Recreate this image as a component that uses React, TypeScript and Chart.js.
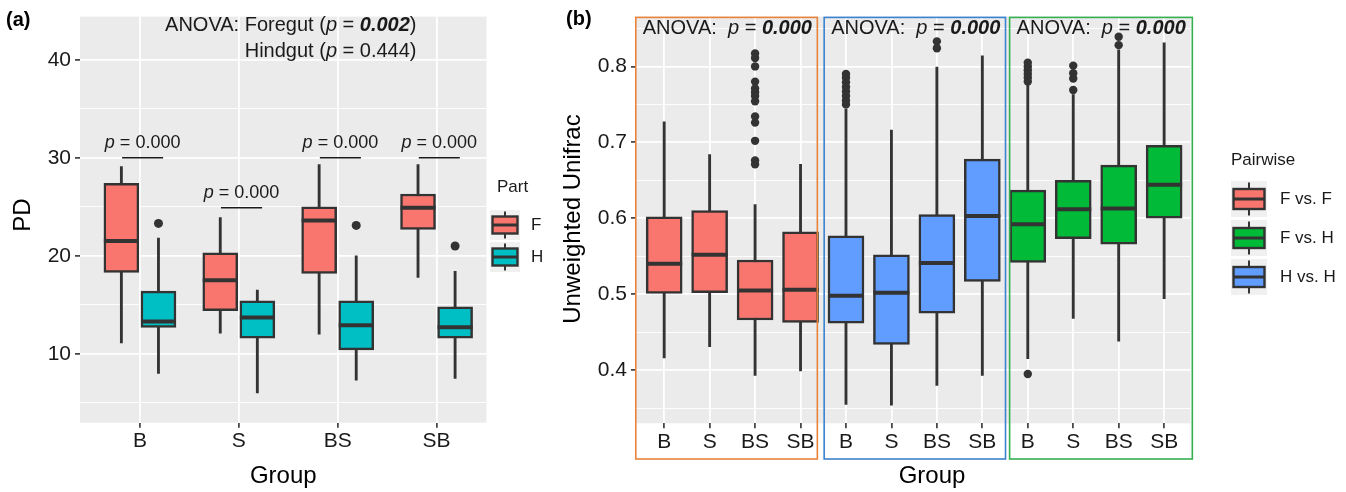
import React, { useEffect, useRef } from 'react';
import { Chart, registerables } from 'chart.js';

Chart.register(...registerables);

const FONT = '"Liberation Sans", Arial, Helvetica, sans-serif';
const INK = '#333333';
const TEXT = '#1A1A1A';
const PANEL_BG = '#EBEBEB';
const KEY_BG = '#F0F0F0';

// ---------------- Panel (a) data ----------------
const groupsA = ['B', 'S', 'BS', 'SB'];
const partsA = ['F', 'H'];
const partColors = ['#F8766D', '#00BFC4'];
// [lower whisker, Q1, median, Q3, upper whisker]
const pdForegut = [
  [11.1, 18.3, 21.5, 27.4, 29.1],
  [12.1, 14.4, 17.5, 20.3, 23.9],
  [12.0, 18.2, 23.6, 25.0, 29.3],
  [17.8, 22.7, 24.9, 26.3, 29.3],
];
const pdHindgut = [
  [8.0, 12.7, 13.3, 16.4, 21.8],
  [6.0, 11.6, 13.7, 15.4, 16.5],
  [7.3, 10.4, 12.9, 15.4, 20.0],
  [7.5, 11.6, 12.7, 14.8, 18.4],
];
const pdForegutOutliers: number[][] = [[], [], [], []];
const pdHindgutOutliers: number[][] = [[23.3], [], [23.1], [21.0]];
const pairPValues = ['0.000', '0.000', '0.000', '0.000'];
const pairBarHeights = [30, 24.9, 30, 30];
const anovaForegutP = '0.002';
const anovaHindgutP = '0.444';
const yMajorA = [10, 20, 30, 40];
const yMinorA = [5, 15, 25, 35];

// ---------------- Panel (b) data ----------------
const groupsB = ['B', 'S', 'BS', 'SB'];
const pairwiseNames = ['F vs. F', 'F vs. H', 'H vs. H'];
const pairwiseColors = ['#F8766D', '#00BA38', '#619CFF'];
const facetOrder = ['F vs. F', 'H vs. H', 'F vs. H'];
const facetBorderColors = ['#E8823A', '#3B82CF', '#35B050'];
const unifracFF = [
  [0.416, 0.501, 0.540, 0.602, 0.727],
  [0.431, 0.502, 0.552, 0.610, 0.684],
  [0.393, 0.466, 0.505, 0.545, 0.618],
  [0.399, 0.463, 0.506, 0.582, 0.671],
];
const unifracHH = [
  [0.355, 0.462, 0.498, 0.577, 0.744],
  [0.354, 0.434, 0.502, 0.552, 0.716],
  [0.380, 0.475, 0.541, 0.605, 0.799],
  [0.393, 0.517, 0.603, 0.678, 0.814],
];
const unifracFH = [
  [0.415, 0.542, 0.592, 0.637, 0.777],
  [0.468, 0.573, 0.612, 0.650, 0.763],
  [0.438, 0.566, 0.613, 0.670, 0.822],
  [0.494, 0.600, 0.644, 0.696, 0.831],
];
const unifracFFOutliers: number[][] = [
  [],
  [],
  [0.817, 0.811, 0.800, 0.780, 0.771, 0.766, 0.761, 0.754, 0.734, 0.726, 0.702, 0.676, 0.671],
  [],
];
const unifracHHOutliers: number[][] = [
  [0.790, 0.785, 0.779, 0.773, 0.767, 0.761, 0.755, 0.750],
  [],
  [0.833, 0.824],
  [],
];
const unifracFHOutliers: number[][] = [
  [0.805, 0.800, 0.795, 0.790, 0.785, 0.780, 0.395],
  [0.801, 0.791, 0.784, 0.769],
  [0.839, 0.828],
  [],
];
const anovaFacetP = ['0.000', '0.000', '0.000'];
const yMajorB = [0.4, 0.5, 0.6, 0.7, 0.8];
const yMinorB = [0.35, 0.45, 0.55, 0.65, 0.75, 0.85];

// ---------------- helpers ----------------
type Run = { t: string; f: string };
const fN = (s: number) => `${s}px ${FONT}`;
const fI = (s: number) => `italic ${s}px ${FONT}`;
const fBI = (s: number) => `italic bold ${s}px ${FONT}`;
const fB = (s: number) => `bold ${s}px ${FONT}`;

function drawRuns(ctx: CanvasRenderingContext2D, runs: Run[], x: number, y: number, align: 'left' | 'center' | 'right', color = TEXT) {
  ctx.save();
  ctx.textBaseline = 'middle';
  ctx.textAlign = 'left';
  ctx.fillStyle = color;
  let w = 0;
  for (const r of runs) { ctx.font = r.f; w += ctx.measureText(r.t).width; }
  let cx = align === 'left' ? x : align === 'center' ? x - w / 2 : x - w;
  for (const r of runs) { ctx.font = r.f; ctx.fillText(r.t, cx, y); cx += ctx.measureText(r.t).width; }
  ctx.restore();
}

function drawRotated(ctx: CanvasRenderingContext2D, text: string, x: number, y: number, font: string) {
  ctx.save();
  ctx.translate(x, y);
  ctx.rotate(-Math.PI / 2);
  ctx.font = font;
  ctx.fillStyle = '#000';
  ctx.textAlign = 'center';
  ctx.textBaseline = 'middle';
  ctx.fillText(text, 0, 0);
  ctx.restore();
}

function drawKey(ctx: CanvasRenderingContext2D, x: number, y: number, size: number, boxW: number, boxH: number, fill: string) {
  ctx.save();
  ctx.fillStyle = KEY_BG;
  ctx.fillRect(x, y, size, size);
  const cx = x + size / 2;
  const cy = y + size / 2;
  ctx.strokeStyle = INK;
  ctx.lineWidth = 2;
  ctx.beginPath();
  ctx.moveTo(cx, y + 1.5);
  ctx.lineTo(cx, y + size - 1.5);
  ctx.stroke();
  ctx.fillStyle = fill;
  ctx.lineWidth = 2.4;
  ctx.fillRect(cx - boxW / 2, cy - boxH / 2, boxW, boxH);
  ctx.strokeRect(cx - boxW / 2, cy - boxH / 2, boxW, boxH);
  ctx.lineWidth = 3;
  ctx.beginPath();
  ctx.moveTo(cx - boxW / 2, cy);
  ctx.lineTo(cx + boxW / 2, cy);
  ctx.stroke();
  ctx.restore();
}

type Median = { x: number; y: number };

function boxDatasets(stats: number[][], xs: number[], color: string, thickness: number): any[] {
  return [
    {
      type: 'bar',
      data: stats.map((s, i) => ({ x: xs[i], y: [s[0], s[4]] })),
      backgroundColor: INK,
      borderWidth: 0,
      barThickness: 2.2,
      grouped: false,
      order: 3,
    },
    {
      type: 'bar',
      data: stats.map((s, i) => ({ x: xs[i], y: [s[1], s[3]] })),
      backgroundColor: color,
      borderColor: INK,
      borderWidth: 2.5,
      borderSkipped: false,
      barThickness: thickness,
      grouped: false,
      order: 2,
    },
  ];
}

function outlierDataset(outs: number[][], xs: number[], radius: number): any {
  const pts: { x: number; y: number }[] = [];
  outs.forEach((list, i) => list.forEach((v) => pts.push({ x: xs[i], y: v })));
  return {
    type: 'scatter',
    data: pts,
    backgroundColor: INK,
    borderColor: INK,
    borderWidth: 0,
    pointRadius: radius,
    pointHoverRadius: radius,
    order: 0,
  };
}

function isIn(v: number, list: number[]) {
  return list.some((m) => Math.abs(m - v) < 1e-6);
}

function makeScales(opts: {
  xMin: number; xMax: number; xTicks: number[]; xLabel: (v: number) => string;
  yMin: number; yMax: number; yMajor: number[]; yMinor: number[]; yFmt: (v: number) => string;
  yWidth: number; xHeight: number;
}): any {
  return {
    x: {
      type: 'linear',
      min: opts.xMin,
      max: opts.xMax,
      offset: false,
      afterBuildTicks: (s: any) => { s.ticks = opts.xTicks.map((v) => ({ value: v })); },
      afterFit: (s: any) => { s.height = opts.xHeight; },
      ticks: {
        autoSkip: false,
        maxRotation: 0,
        minRotation: 0,
        padding: 1,
        color: TEXT,
        font: { family: FONT, size: 21 },
        callback: (v: any) => opts.xLabel(Number(v)),
      },
      grid: {
        offset: false,
        color: '#FFFFFF',
        lineWidth: 1.8,
        tickColor: INK,
        tickLength: 5,
        tickWidth: 1.6,
        drawTicks: true,
      },
      border: { display: false },
    },
    y: {
      type: 'linear',
      min: opts.yMin,
      max: opts.yMax,
      afterBuildTicks: (s: any) => {
        s.ticks = [...opts.yMinor, ...opts.yMajor].sort((a, b) => a - b).map((v) => ({ value: v }));
      },
      afterFit: (s: any) => { s.width = opts.yWidth; },
      ticks: {
        autoSkip: false,
        padding: 4,
        color: TEXT,
        font: { family: FONT, size: 21 },
        callback: (v: any) => (isIn(Number(v), opts.yMajor) ? opts.yFmt(Number(v)) : ''),
      },
      grid: {
        color: '#FFFFFF',
        lineWidth: (c: any) => (c.tick && isIn(c.tick.value, opts.yMajor) ? 1.8 : 0.9),
        tickColor: (c: any) => (c.tick && isIn(c.tick.value, opts.yMajor) ? INK : 'rgba(0,0,0,0)'),
        tickLength: 5,
        tickWidth: 1.6,
      },
      border: { display: false },
    },
  };
}

function panelBackground(chart: any) {
  const { ctx, chartArea: a } = chart;
  ctx.save();
  ctx.fillStyle = PANEL_BG;
  ctx.fillRect(a.left, a.top, a.right - a.left, a.bottom - a.top);
  ctx.restore();
}

function drawMedians(chart: any, meds: Median[], halfW: number) {
  const { ctx, scales } = chart;
  ctx.save();
  ctx.strokeStyle = INK;
  ctx.lineWidth = 4;
  ctx.lineCap = 'butt';
  for (const m of meds) {
    const px = scales.x.getPixelForValue(m.x);
    const py = scales.y.getPixelForValue(m.y);
    ctx.beginPath();
    ctx.moveTo(px - halfW, py);
    ctx.lineTo(px + halfW, py);
    ctx.stroke();
  }
  ctx.restore();
}

// ---------------- Panel (a) config ----------------
const DODGE = 0.1875;
function configA(): any {
  const xsF = groupsA.map((_, i) => i - DODGE);
  const xsH = groupsA.map((_, i) => i + DODGE);
  const boxW = 35;
  const meds: Median[] = [
    ...pdForegut.map((s, i) => ({ x: xsF[i], y: s[2] })),
    ...pdHindgut.map((s, i) => ({ x: xsH[i], y: s[2] })),
  ];
  const plugin = {
    id: 'panelA',
    beforeDraw: panelBackground,
    afterDatasetsDraw: (chart: any) => drawMedians(chart, meds, boxW / 2),
    afterDraw: (chart: any) => {
      const { ctx, scales, chartArea: a } = chart;
      const X = scales.x, Y = scales.y;
      // pairwise comparisons
      groupsA.forEach((_, i) => {
        const y = Y.getPixelForValue(pairBarHeights[i]);
        const x0 = X.getPixelForValue(i - 0.18);
        const x1 = X.getPixelForValue(i + 0.235);
        ctx.save();
        ctx.strokeStyle = TEXT;
        ctx.lineWidth = 1.3;
        ctx.beginPath();
        ctx.moveTo(x0, y);
        ctx.lineTo(x1, y);
        ctx.stroke();
        ctx.restore();
        drawRuns(ctx, [{ t: 'p', f: fI(18) }, { t: ' = ' + pairPValues[i], f: fN(18) }], (x0 + x1) / 2, y - 15, 'center');
      });
      // ANOVA annotation
      const rx = a.right - 70;
      drawRuns(ctx, [
        { t: 'ANOVA: Foregut (', f: fN(20) },
        { t: 'p', f: fI(20) },
        { t: ' = ', f: fN(20) },
        { t: anovaForegutP, f: fBI(20) },
        { t: ')', f: fN(20) },
      ], rx, 25, 'right');
      drawRuns(ctx, [
        { t: 'Hindgut (', f: fN(20) },
        { t: 'p', f: fI(20) },
        { t: ' = ' + anovaHindgutP + ')', f: fN(20) },
      ], rx, 51.5, 'right');
      // titles
      drawRuns(ctx, [{ t: '(a)', f: fB(20) }], 6, 20, 'left', '#000');
      drawRuns(ctx, [{ t: 'Group', f: fN(24) }], (a.left + a.right) / 2, 476, 'center', '#000');
      drawRotated(ctx, 'PD', 23, 215, fN(24));
      // legend
      drawRuns(ctx, [{ t: 'Part', f: fN(17) }], 497, 187, 'left');
      partsA.forEach((p, k) => {
        const ky = 210 + k * 32;
        drawKey(ctx, 490, ky, 30, 25, 17, partColors[k]);
        drawRuns(ctx, [{ t: p, f: fN(17) }], 531, ky + 15, 'left');
      });
    },
  };
  return {
    type: 'bar',
    data: {
      datasets: [
        ...boxDatasets(pdForegut, xsF, partColors[0], boxW),
        ...boxDatasets(pdHindgut, xsH, partColors[1], boxW),
        outlierDataset(pdForegutOutliers, xsF, 4.5),
        outlierDataset(pdHindgutOutliers, xsH, 4.5),
      ],
    },
    options: {
      responsive: false,
      animation: false,
      events: [],
      layout: { padding: { left: 0, right: 550 - 486.5, top: 15, bottom: 0 } },
      plugins: { legend: { display: false }, tooltip: { enabled: false } },
      scales: makeScales({
        xMin: -0.606, xMax: 3.505, xTicks: [0, 1, 2, 3], xLabel: (v) => groupsA[v] ?? '',
        yMin: 2.97, yMax: 44.4, yMajor: yMajorA, yMinor: yMinorA, yFmt: (v) => String(Math.round(v)),
        yWidth: 80, xHeight: 69.3,
      }),
    },
    plugins: [plugin],
  };
}

// ---------------- Panel (b) config ----------------
const OFFSET_B = 550;
function configB(): any {
  const xs = (facet: number) => groupsB.map((_, i) => facet * 4 + i);
  const boxW = 36;
  const statsByFacet = [unifracFF, unifracHH, unifracFH];
  const outsByFacet = [unifracFFOutliers, unifracHHOutliers, unifracFHOutliers];
  const colorByFacet = facetOrder.map((n) => pairwiseColors[pairwiseNames.indexOf(n)]);
  const meds: Median[] = [];
  statsByFacet.forEach((st, f) => st.forEach((s, i) => meds.push({ x: xs(f)[i], y: s[2] })));
  const facetSpans = [[-0.625, 3.37], [3.52, 7.51], [7.6, 11.62]];
  const datasets: any[] = [];
  statsByFacet.forEach((st, f) => datasets.push(...boxDatasets(st, xs(f), colorByFacet[f], boxW)));
  outsByFacet.forEach((o, f) => datasets.push(outlierDataset(o, xs(f), 4.2)));
  const xLabels = [...groupsB, ...groupsB, ...groupsB];

  const plugin = {
    id: 'panelB',
    beforeDraw: panelBackground,
    afterDatasetsDraw: (chart: any) => drawMedians(chart, meds, boxW / 2),
    afterDraw: (chart: any) => {
      const { ctx, scales, chartArea: a } = chart;
      const X = scales.x;
      facetSpans.forEach(([s, e], f) => {
        const x0 = X.getPixelForValue(s);
        const x1 = X.getPixelForValue(e);
        ctx.save();
        ctx.strokeStyle = facetBorderColors[f];
        ctx.lineWidth = 1.6;
        ctx.strokeRect(x0, a.top + 0.8, x1 - x0, 459 - a.top - 0.8);
        ctx.restore();
        drawRuns(ctx, [
          { t: 'ANOVA:  ', f: fN(20) },
          { t: 'p', f: fI(20) },
          { t: ' = ', f: fN(20) },
          { t: anovaFacetP[f], f: fBI(20) },
        ], x0 + 7, 28.5, 'left');
      });
      drawRuns(ctx, [{ t: '(b)', f: fB(20) }], 16, 19, 'left', '#000');
      drawRuns(ctx, [{ t: 'Group', f: fN(24) }], 932 - OFFSET_B, 476, 'center', '#000');
      drawRotated(ctx, 'Unweighted Unifrac', 23, 219, fN(24));
      // legend
      drawRuns(ctx, [{ t: 'Pairwise', f: fN(17) }], 1231 - OFFSET_B, 160, 'left');
      pairwiseNames.forEach((n, k) => {
        const ky = 181 + k * 39;
        drawKey(ctx, 1231 - OFFSET_B, ky, 36, 31, 20, pairwiseColors[k]);
        drawRuns(ctx, [{ t: n, f: fN(17) }], 1280 - OFFSET_B, ky + 18, 'left');
      });
    },
  };
  return {
    type: 'bar',
    data: { datasets },
    options: {
      responsive: false,
      animation: false,
      events: [],
      layout: { padding: { left: 0, right: 796 - 640.5, top: 15, bottom: 0 } },
      plugins: { legend: { display: false }, tooltip: { enabled: false } },
      scales: makeScales({
        xMin: -0.62, xMax: 11.58, xTicks: xLabels.map((_, i) => i), xLabel: (v) => xLabels[v] ?? '',
        yMin: 0.33, yMax: 0.8656, yMajor: yMajorB, yMinor: yMinorB, yFmt: (v) => v.toFixed(1),
        yWidth: 86, xHeight: 68.7,
      }),
    },
    plugins: [plugin],
  };
}

function ChartCanvas({ make, left, width, height }: { make: () => any; left: number; width: number; height: number }) {
  const ref = useRef<HTMLCanvasElement>(null);
  useEffect(() => {
    const chart = new Chart(ref.current as HTMLCanvasElement, make());
    return () => chart.destroy();
  }, []);
  return (
    <canvas
      ref={ref}
      width={width}
      height={height}
      style={{ position: 'absolute', left, top: 0, width, height, display: 'block' }}
    />
  );
}

export default function App() {
  return (
    <div style={{ position: 'absolute', left: 0, top: 0, width: 1346, height: 492, background: '#FFFFFF', overflow: 'hidden' }}>
      <ChartCanvas make={configA} left={0} width={550} height={492} />
      <ChartCanvas make={configB} left={OFFSET_B} width={796} height={492} />
    </div>
  );
}
